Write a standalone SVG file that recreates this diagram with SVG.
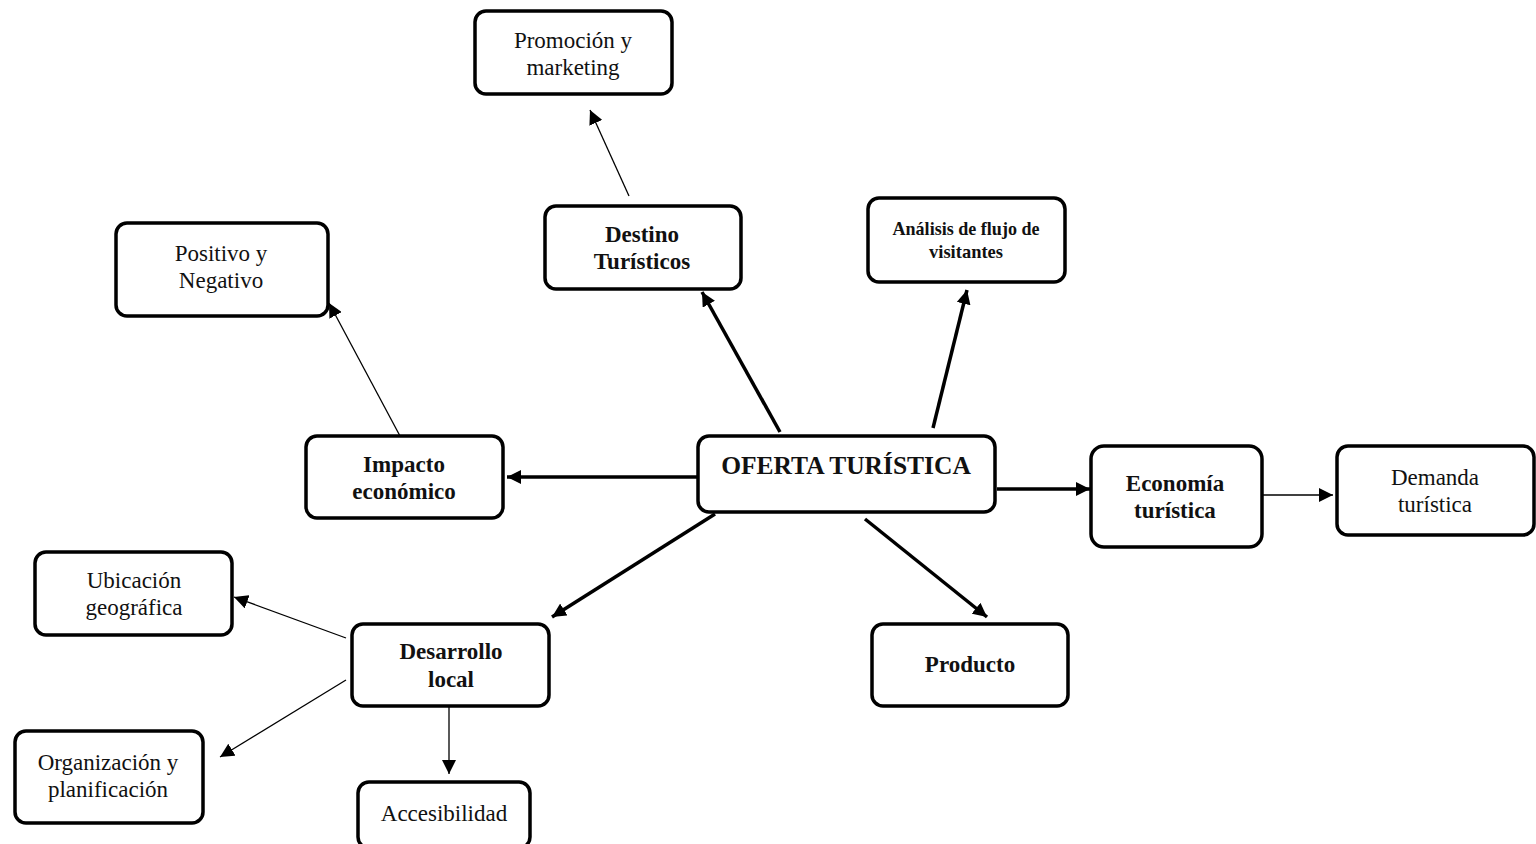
<svg xmlns="http://www.w3.org/2000/svg" width="1536" height="844" viewBox="0 0 1536 844">
<style>
.box{fill:#fff;stroke:#000;stroke-width:3.5}
.t{font-family:"Liberation Serif","Times New Roman",serif;font-size:23px;fill:#111;text-anchor:middle}
.b{font-weight:bold}
.s{font-size:19px}
.big{font-size:25.5px}
.thick{stroke:#000;stroke-width:3.5;fill:none}
.thin{stroke:#000;stroke-width:1.3;fill:none}
</style>
<defs>
<marker id="ah" viewBox="0 0 10 10" refX="10" refY="5" markerWidth="14" markerHeight="14" markerUnits="userSpaceOnUse" orient="auto">
<path d="M0,0 L10,5 L0,10 Z" fill="#000"/>
</marker>
</defs>
<rect width="1536" height="844" fill="#fff"/>
<g id="connectors">
<line class="thin" x1="629" y1="196" x2="590" y2="110" marker-end="url(#ah)"/>
<line class="thick" x1="780" y1="432" x2="702" y2="292" marker-end="url(#ah)"/>
<line class="thick" x1="933" y1="428" x2="967" y2="290" marker-end="url(#ah)"/>
<line class="thin" x1="400" y1="436" x2="329" y2="303" marker-end="url(#ah)"/>
<line class="thick" x1="697" y1="477" x2="507" y2="477" marker-end="url(#ah)"/>
<line class="thick" x1="997" y1="489" x2="1090" y2="489" marker-end="url(#ah)"/>
<line class="thin" x1="1254" y1="495" x2="1333" y2="495" marker-end="url(#ah)"/>
<line class="thick" x1="715" y1="514" x2="552" y2="617" marker-end="url(#ah)"/>
<line class="thick" x1="865" y1="519" x2="987" y2="617" marker-end="url(#ah)"/>
<line class="thin" x1="346" y1="638" x2="234" y2="597" marker-end="url(#ah)"/>
<line class="thin" x1="346" y1="680" x2="220" y2="757" marker-end="url(#ah)"/>
<line class="thin" x1="449" y1="702" x2="449" y2="774" marker-end="url(#ah)"/>
</g>
<g id="promocion"><rect class="box" x="475" y="11" width="197" height="83" rx="11"/>
<text class="t" x="573" y="48">Promoción y</text><text class="t" x="573" y="75">marketing</text></g>
<g id="destino"><rect class="box" x="545" y="206" width="196" height="83" rx="11"/>
<text class="t b" x="642" y="242">Destino</text><text class="t b" x="642" y="269">Turísticos</text></g>
<g id="analisis"><rect class="box" x="868" y="198" width="197" height="84" rx="11"/>
<text class="t b s" x="966" y="235" textLength="147" lengthAdjust="spacingAndGlyphs">Análisis de flujo de</text><text class="t b s" x="966" y="258" textLength="74" lengthAdjust="spacingAndGlyphs">visitantes</text></g>
<g id="positivo"><rect class="box" x="116" y="223" width="212" height="93" rx="11"/>
<text class="t" x="221" y="261">Positivo y</text><text class="t" x="221" y="288">Negativo</text></g>
<g id="impacto"><rect class="box" x="306" y="436" width="197" height="82" rx="11"/>
<text class="t b" x="404" y="472">Impacto</text><text class="t b" x="404" y="499">económico</text></g>
<g id="oferta"><rect class="box" x="698" y="436" width="297" height="76" rx="11"/>
<text class="t b big" x="846" y="474">OFERTA TURÍSTICA</text></g>
<g id="economia"><rect class="box" x="1091" y="446" width="171" height="101" rx="13"/>
<text class="t b" x="1175" y="491">Economía</text><text class="t b" x="1175" y="518">turística</text></g>
<g id="demanda"><rect class="box" x="1337" y="446" width="197" height="89" rx="11"/>
<text class="t" x="1435" y="485">Demanda</text><text class="t" x="1435" y="512">turística</text></g>
<g id="ubicacion"><rect class="box" x="35" y="552" width="197" height="83" rx="11"/>
<text class="t" x="134" y="588">Ubicación</text><text class="t" x="134" y="615">geográfica</text></g>
<g id="desarrollo"><rect class="box" x="352" y="624" width="197" height="82" rx="11"/>
<text class="t b" x="451" y="659">Desarrollo</text><text class="t b" x="451" y="687">local</text></g>
<g id="organizacion"><rect class="box" x="15" y="731" width="188" height="92" rx="11"/>
<text class="t" x="108" y="770">Organización y</text><text class="t" x="108" y="797">planificación</text></g>
<g id="accesibilidad"><rect class="box" x="358" y="782" width="172" height="66" rx="11"/>
<text class="t" x="444" y="821">Accesibilidad</text></g>
<g id="producto"><rect class="box" x="872" y="624" width="196" height="82" rx="11"/>
<text class="t b" x="970" y="672">Producto</text></g>
</svg>
